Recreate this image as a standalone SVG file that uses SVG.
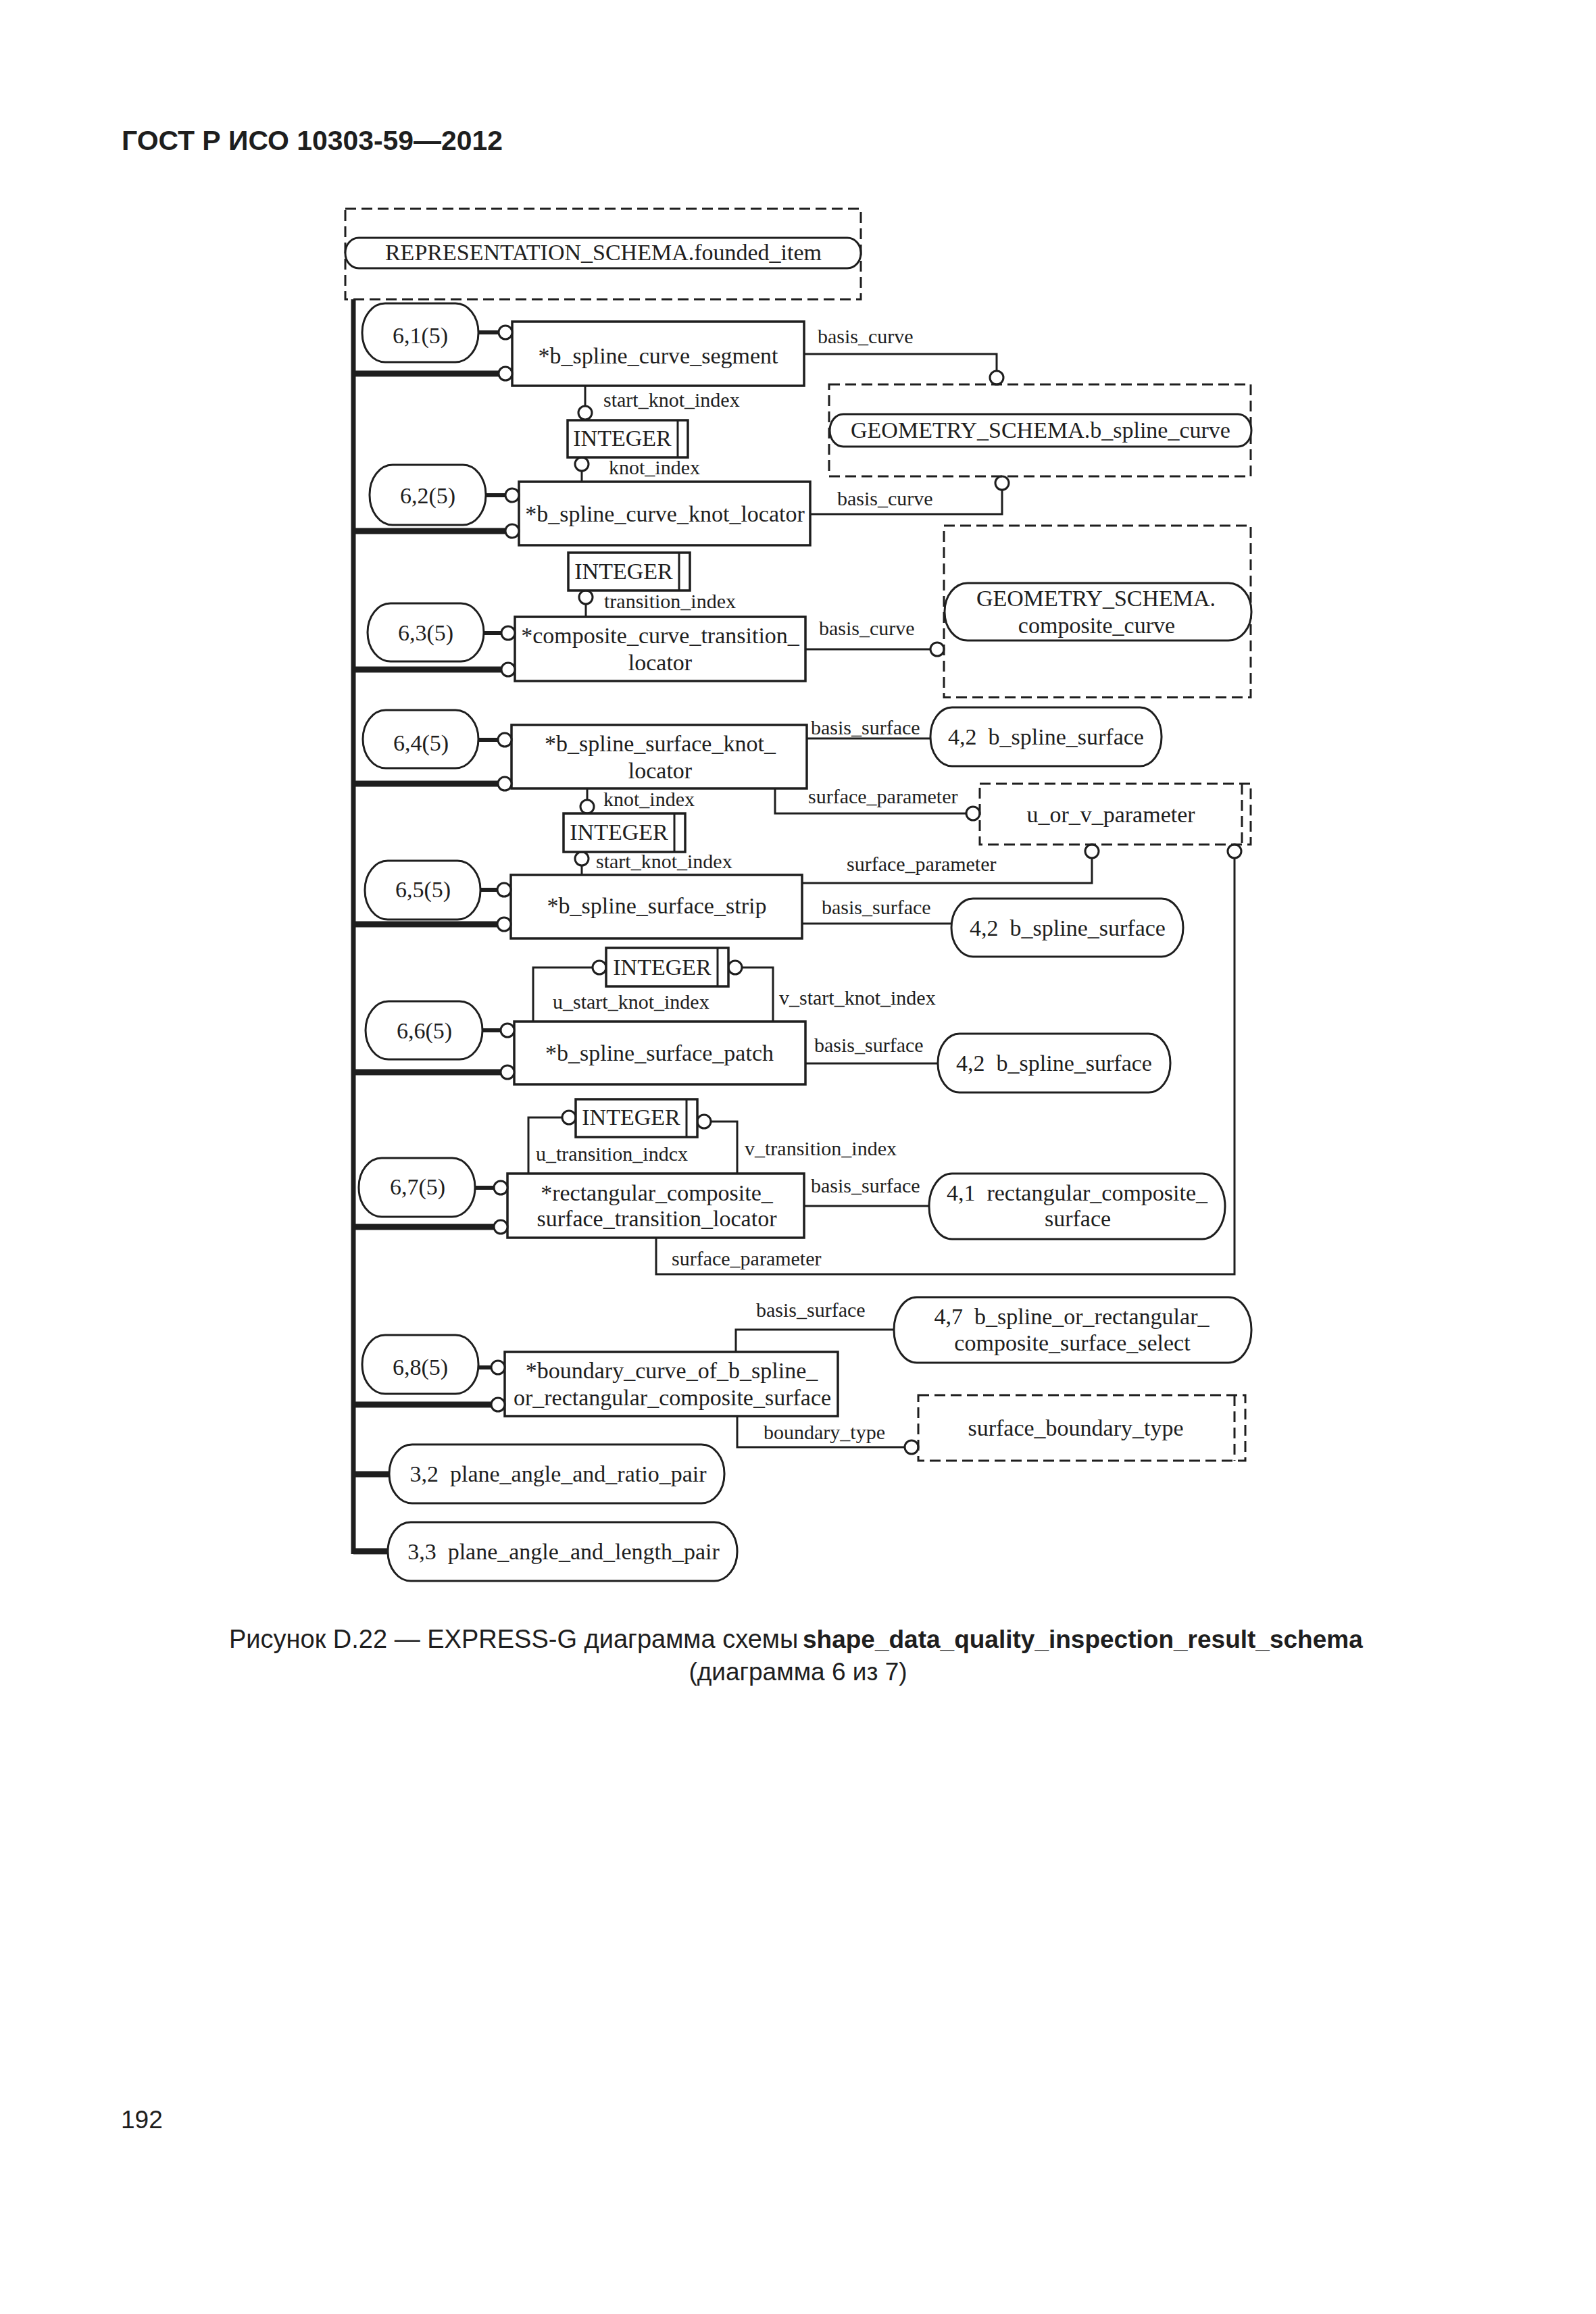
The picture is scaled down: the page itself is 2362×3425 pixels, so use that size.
<svg xmlns="http://www.w3.org/2000/svg" width="2362" height="3425" viewBox="0 0 2362 3425">
<style>
.bg{fill:#fff}
.ent{fill:#fff;stroke:#1e1e1e;stroke-width:3.5}
.ov{fill:#fff;stroke:#1e1e1e;stroke-width:3}
.dash{fill:none;stroke:#1e1e1e;stroke-width:3;stroke-dasharray:16 8}
.ln{fill:none;stroke:#1e1e1e;stroke-width:3}
.thick{fill:none;stroke:#1e1e1e;stroke-width:9}
.stub{fill:none;stroke:#1e1e1e;stroke-width:6}
.trunk{fill:none;stroke:#1e1e1e;stroke-width:7}
.c{fill:#fff;stroke:#1e1e1e;stroke-width:3}
text{font-family:"Liberation Serif","Times New Roman",serif;fill:#1e1e1e;white-space:pre}
.t{font-size:34px}
.lb{font-size:30px}
.m{text-anchor:middle}
.sans{font-family:"Liberation Sans",Arial,sans-serif}
</style>
<rect class="bg" x="0" y="0" width="2362" height="3425"/>

<text class="sans" x="180" y="222" font-size="41" font-weight="bold" textLength="564" lengthAdjust="spacingAndGlyphs">ГОСТ Р ИСО 10303-59—2012</text>

<!-- connectors -->
<g id="connectors">
  <line class="trunk" x1="523" y1="443" x2="523" y2="2300"/>
  <!-- row 1 -->
  <line class="stub" x1="708" y1="492" x2="738" y2="492"/>
  <line class="thick" x1="520" y1="553" x2="738" y2="553"/>
  <line class="ln" x1="866" y1="571" x2="866" y2="601"/>
  <circle class="c" cx="866" cy="611" r="10"/>
  <text class="lb" x="893" y="602">start_knot_index</text>
  <path class="ln" d="M1190,524 H1475 V549"/>
  <circle class="c" cx="1475" cy="559" r="10"/>
  <text class="lb" x="1210" y="508">basis_curve</text>
  <circle class="c" cx="861" cy="687" r="10"/>
  <line class="ln" x1="861" y1="697" x2="861" y2="713"/>
  <text class="lb" x="901" y="702">knot_index</text>
  <!-- row 2 -->
  <circle class="c" cx="1483" cy="715" r="10"/>
  <path class="ln" d="M1483,725 V761 H1199"/>
  <text class="lb" x="1239" y="748">basis_curve</text>
  <line class="stub" x1="719" y1="733" x2="748" y2="733"/>
  <line class="thick" x1="520" y1="786" x2="748" y2="786"/>
  <!-- row 3 -->
  <circle class="c" cx="867" cy="884" r="10"/>
  <line class="ln" x1="867" y1="894" x2="867" y2="913"/>
  <text class="lb" x="894" y="900">transition_index</text>
  <line class="stub" x1="716" y1="937" x2="742" y2="937"/>
  <line class="thick" x1="520" y1="991" x2="742" y2="991"/>
  <line class="ln" x1="1192" y1="961" x2="1377" y2="961"/>
  <circle class="c" cx="1387" cy="961" r="10"/>
  <text class="lb" x="1212" y="940">basis_curve</text>
  <!-- row 4 -->
  <line class="stub" x1="708" y1="1095" x2="737" y2="1095"/>
  <line class="thick" x1="520" y1="1160" x2="737" y2="1160"/>
  <line class="ln" x1="1194" y1="1093" x2="1377" y2="1093"/>
  <text class="lb" x="1200" y="1087">basis_surface</text>
  <path class="ln" d="M1147,1167 V1204 H1430"/>
  <circle class="c" cx="1440" cy="1204" r="10"/>
  <text class="lb" x="1196" y="1189">surface_parameter</text>
  <line class="ln" x1="869" y1="1167" x2="869" y2="1184"/>
  <circle class="c" cx="869" cy="1194" r="10"/>
  <text class="lb" x="893" y="1193">knot_index</text>
  <circle class="c" cx="861" cy="1271" r="10"/>
  <line class="ln" x1="861" y1="1281" x2="861" y2="1295"/>
  <text class="lb" x="882" y="1285">start_knot_index</text>
  <!-- row 5 -->
  <line class="stub" x1="711" y1="1317" x2="736" y2="1317"/>
  <line class="thick" x1="520" y1="1368" x2="736" y2="1368"/>
  <circle class="c" cx="1616" cy="1260" r="10"/>
  <path class="ln" d="M1616,1270 V1307 H1187"/>
  <text class="lb" x="1253" y="1289">surface_parameter</text>
  <line class="ln" x1="1187" y1="1367" x2="1408" y2="1367"/>
  <text class="lb" x="1216" y="1353">basis_surface</text>
  <circle class="c" cx="1827" cy="1260" r="10"/>
  <path class="ln" d="M1827,1270 V1886 H971 V1832"/>
  <text class="lb" x="994" y="1873">surface_parameter</text>
  <!-- row 6 -->
  <circle class="c" cx="887" cy="1432" r="10"/>
  <path class="ln" d="M877,1432 H789 V1512"/>
  <text class="lb" x="818" y="1493">u_start_knot_index</text>
  <circle class="c" cx="1088" cy="1432" r="10"/>
  <path class="ln" d="M1098,1432 H1144 V1512"/>
  <text class="lb" x="1153" y="1487">v_start_knot_index</text>
  <line class="stub" x1="714" y1="1525" x2="741" y2="1525"/>
  <line class="thick" x1="520" y1="1587" x2="741" y2="1587"/>
  <line class="ln" x1="1192" y1="1574" x2="1388" y2="1574"/>
  <text class="lb" x="1205" y="1557">basis_surface</text>
  <!-- row 7 -->
  <circle class="c" cx="842" cy="1654" r="10"/>
  <path class="ln" d="M832,1654 H782 V1737"/>
  <text class="lb" x="793" y="1718">u_transition_indcx</text>
  <circle class="c" cx="1042" cy="1660" r="10"/>
  <path class="ln" d="M1052,1660 H1091 V1737"/>
  <text class="lb" x="1102" y="1710">v_transition_index</text>
  <line class="stub" x1="703" y1="1758" x2="731" y2="1758"/>
  <line class="thick" x1="520" y1="1816" x2="731" y2="1816"/>
  <line class="ln" x1="1190" y1="1785" x2="1375" y2="1785"/>
  <text class="lb" x="1200" y="1765">basis_surface</text>
  <!-- row 8 -->
  <path class="ln" d="M1089,2001 V1968 H1323"/>
  <text class="lb" x="1119" y="1949">basis_surface</text>
  <line class="stub" x1="708" y1="2024" x2="727" y2="2024"/>
  <line class="thick" x1="520" y1="2079" x2="727" y2="2079"/>
  <path class="ln" d="M1091,2096 V2142 H1339"/>
  <circle class="c" cx="1349" cy="2142" r="10"/>
  <text class="lb" x="1130" y="2130">boundary_type</text>
  <line class="thick" x1="520" y1="2182" x2="576" y2="2182"/>
  <path class="thick" d="M523,2296 H574"/>
</g>

<!-- nodes -->
<g id="founded_item">
  <rect class="dash" x="511" y="309" width="763" height="134"/>
  <rect class="ov" x="511" y="352" width="763" height="45" rx="20" ry="22"/>
  <text class="t m" x="893" y="385">REPRESENTATION_SCHEMA.founded_item</text>
</g>

<g id="p61">
  <rect class="ov" x="536" y="449" width="172" height="87" rx="34" ry="43"/>
  <text class="t m" x="622" y="508">6,1(5)</text>
</g>
<g id="b_spline_curve_segment">
  <rect class="ent" x="758" y="476" width="432" height="95"/>
  <text class="t m" x="974" y="538">*b_spline_curve_segment</text>
  <circle class="c" cx="748" cy="492" r="10"/>
  <circle class="c" cx="748" cy="553" r="10"/>
</g>
<g id="integer1">
  <rect class="ent" x="840" y="622" width="178" height="55"/>
  <line class="ln" x1="1003" y1="622" x2="1003" y2="677"/>
  <text class="t m" x="921" y="660">INTEGER</text>
</g>
<g id="geom_b_spline_curve">
  <rect class="dash" x="1227" y="569" width="624" height="136"/>
  <rect class="ov" x="1228" y="613" width="624" height="48" rx="20" ry="24"/>
  <text class="t m" x="1540" y="648">GEOMETRY_SCHEMA.b_spline_curve</text>
</g>

<g id="p62">
  <rect class="ov" x="547" y="688" width="172" height="89" rx="34" ry="44"/>
  <text class="t m" x="633" y="745">6,2(5)</text>
</g>
<g id="b_spline_curve_knot_locator">
  <rect class="ent" x="768" y="713" width="431" height="94"/>
  <text class="t m" x="984" y="772">*b_spline_curve_knot_locator</text>
  <circle class="c" cx="758" cy="733" r="10"/>
  <circle class="c" cx="758" cy="786" r="10"/>
</g>
<g id="integer2">
  <rect class="ent" x="841" y="818" width="180" height="56"/>
  <line class="ln" x1="1005" y1="818" x2="1005" y2="874"/>
  <text class="t m" x="923" y="857">INTEGER</text>
</g>

<g id="p63">
  <rect class="ov" x="544" y="893" width="172" height="86" rx="34" ry="43"/>
  <text class="t m" x="630" y="948">6,3(5)</text>
</g>
<g id="composite_curve_transition_locator">
  <rect class="ent" x="762" y="913" width="430" height="95"/>
  <text class="t m" x="977" y="952">*composite_curve_transition_</text>
  <text class="t m" x="977" y="992">locator</text>
  <circle class="c" cx="752" cy="937" r="10"/>
  <circle class="c" cx="752" cy="991" r="10"/>
</g>
<g id="geom_composite_curve">
  <rect class="dash" x="1397" y="778" width="454" height="254"/>
  <rect class="ov" x="1398" y="863" width="454" height="85" rx="34" ry="42"/>
  <text class="t m" x="1622" y="897">GEOMETRY_SCHEMA.</text>
  <text class="t m" x="1623" y="937">composite_curve</text>
</g>

<g id="p64">
  <rect class="ov" x="537" y="1051" width="171" height="86" rx="34" ry="43"/>
  <text class="t m" x="623" y="1111">6,4(5)</text>
</g>
<g id="b_spline_surface_knot_locator">
  <rect class="ent" x="757" y="1073" width="437" height="94"/>
  <text class="t m" x="977" y="1112">*b_spline_surface_knot_</text>
  <text class="t m" x="977" y="1152">locator</text>
  <circle class="c" cx="747" cy="1095" r="10"/>
  <circle class="c" cx="747" cy="1160" r="10"/>
</g>
<g id="b_spline_surface_a">
  <rect class="ov" x="1377" y="1047" width="342" height="87" rx="32" ry="43"/>
  <text class="t m" x="1548" y="1102">4,2  b_spline_surface</text>
</g>
<g id="u_or_v_parameter">
  <rect class="dash" x="1450" y="1160" width="401" height="90"/>
  <line class="dash" x1="1838" y1="1160" x2="1838" y2="1250"/>
  <text class="t m" x="1644" y="1217">u_or_v_parameter</text>
</g>
<g id="integer3">
  <rect class="ent" x="834" y="1204" width="180" height="57"/>
  <line class="ln" x1="998" y1="1204" x2="998" y2="1261"/>
  <text class="t m" x="916" y="1243">INTEGER</text>
</g>

<g id="p65">
  <rect class="ov" x="540" y="1274" width="171" height="87" rx="34" ry="43"/>
  <text class="t m" x="626" y="1328">6,5(5)</text>
</g>
<g id="b_spline_surface_strip">
  <rect class="ent" x="756" y="1295" width="431" height="94"/>
  <text class="t m" x="972" y="1352">*b_spline_surface_strip</text>
  <circle class="c" cx="746" cy="1317" r="10"/>
  <circle class="c" cx="746" cy="1368" r="10"/>
</g>
<g id="b_spline_surface_b">
  <rect class="ov" x="1408" y="1330" width="343" height="86" rx="32" ry="43"/>
  <text class="t m" x="1580" y="1385">4,2  b_spline_surface</text>
</g>

<g id="integer4">
  <rect class="ent" x="897" y="1403" width="181" height="57"/>
  <line class="ln" x1="1062" y1="1403" x2="1062" y2="1460"/>
  <text class="t m" x="980" y="1443">INTEGER</text>
</g>
<g id="p66">
  <rect class="ov" x="541" y="1482" width="173" height="86" rx="34" ry="43"/>
  <text class="t m" x="628" y="1537">6,6(5)</text>
</g>
<g id="b_spline_surface_patch">
  <rect class="ent" x="761" y="1512" width="431" height="93"/>
  <text class="t m" x="976" y="1570">*b_spline_surface_patch</text>
  <circle class="c" cx="751" cy="1525" r="10"/>
  <circle class="c" cx="751" cy="1587" r="10"/>
</g>
<g id="b_spline_surface_c">
  <rect class="ov" x="1388" y="1530" width="344" height="87" rx="32" ry="43"/>
  <text class="t m" x="1560" y="1585">4,2  b_spline_surface</text>
</g>

<g id="integer5">
  <rect class="ent" x="852" y="1627" width="180" height="56"/>
  <line class="ln" x1="1016" y1="1627" x2="1016" y2="1683"/>
  <text class="t m" x="934" y="1665">INTEGER</text>
</g>
<g id="p67">
  <rect class="ov" x="531" y="1714" width="172" height="87" rx="34" ry="43"/>
  <text class="t m" x="618" y="1768">6,7(5)</text>
</g>
<g id="rectangular_composite_surface_transition_locator">
  <rect class="ent" x="751" y="1737" width="439" height="95"/>
  <text class="t m" x="972" y="1777">*rectangular_composite_</text>
  <text class="t m" x="972" y="1815">surface_transition_locator</text>
  <circle class="c" cx="741" cy="1758" r="10"/>
  <circle class="c" cx="741" cy="1816" r="10"/>
</g>
<g id="rectangular_composite_surface">
  <rect class="ov" x="1375" y="1737" width="438" height="97" rx="34" ry="48"/>
  <text class="t m" x="1594" y="1777">4,1  rectangular_composite_</text>
  <text class="t m" x="1595" y="1815">surface</text>
</g>

<g id="b_spline_or_rectangular_composite_surface_select">
  <rect class="ov" x="1323" y="1920" width="529" height="97" rx="34" ry="48"/>
  <text class="t m" x="1586" y="1960">4,7  b_spline_or_rectangular_</text>
  <text class="t m" x="1587" y="1999">composite_surface_select</text>
</g>
<g id="p68">
  <rect class="ov" x="536" y="1976" width="172" height="87" rx="34" ry="43"/>
  <text class="t m" x="622" y="2035">6,8(5)</text>
</g>
<g id="boundary_curve_of_b_spline_or_rectangular_composite_surface">
  <rect class="ent" x="747" y="2001" width="493" height="95"/>
  <text class="t m" x="994" y="2040">*boundary_curve_of_b_spline_</text>
  <text class="t m" x="995" y="2080">or_rectangular_composite_surface</text>
  <circle class="c" cx="737" cy="2024" r="10"/>
  <circle class="c" cx="737" cy="2079" r="10"/>
</g>
<g id="surface_boundary_type">
  <rect class="dash" x="1359" y="2065" width="484" height="97"/>
  <line class="dash" x1="1827" y1="2065" x2="1827" y2="2162"/>
  <text class="t m" x="1592" y="2125">surface_boundary_type</text>
</g>
<g id="plane_angle_and_ratio_pair">
  <rect class="ov" x="576" y="2138" width="496" height="87" rx="34" ry="43"/>
  <text class="t m" x="826" y="2193">3,2  plane_angle_and_ratio_pair</text>
</g>
<g id="plane_angle_and_length_pair">
  <rect class="ov" x="574" y="2253" width="517" height="87" rx="34" ry="43"/>
  <text class="t m" x="834" y="2308">3,3  plane_angle_and_length_pair</text>
</g>

<text class="sans" x="339" y="2439" font-size="38">Рисунок D.22 — EXPRESS-G диаграмма схемы <tspan x="1188" font-size="37" font-weight="bold">shape_data_quality_inspection_result_schema</tspan></text>
<text class="sans m" x="1181" y="2487" font-size="37">(диаграмма 6 из 7)</text>
<text class="sans" x="179" y="3150" font-size="37">192</text>
</svg>
